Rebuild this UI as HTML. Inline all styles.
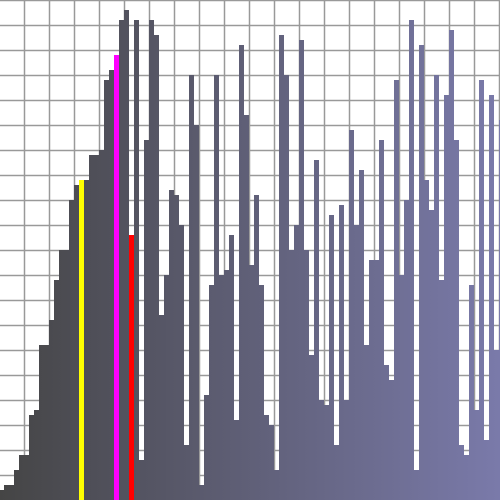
<!DOCTYPE html>
<html><head><meta charset="utf-8"><style>html,body{margin:0;padding:0;background:#fff}svg{display:block}</style></head>
<body>
<svg id="chart" width="500" height="500" viewBox="0 0 500 500" xmlns="http://www.w3.org/2000/svg">
<defs><linearGradient id="g" gradientUnits="userSpaceOnUse" x1="0" y1="0" x2="500" y2="0"><stop offset="0" stop-color="#454545"/><stop offset="1" stop-color="#7a7aaa"/></linearGradient></defs>
<g id="grid"></g>
<g id="bars"></g>
</svg>
<script>
const counts=[10,15,15,30,45,45,85,90,155,155,180,220,250,250,300,315,320,320,345,345,350,420,430,445,480,490,265,480,40,360,480,465,185,225,310,305,275,55,425,375,15,105,215,425,225,230,265,80,455,385,235,305,215,85,75,30,465,425,250,275,460,250,145,340,100,95,285,55,295,100,370,275,330,155,240,240,360,135,120,420,225,300,480,30,455,320,290,425,220,405,470,360,55,45,215,90,420,60,405,150,380];
const highlightIdx=[16,23,26];
const highlightColors=["#ffff00","#ff00ff","#ff0000"];
const NS="http://www.w3.org/2000/svg";
const barW=5, x0=-1, H=500;
function xs(i){return x0+i*barW;}
function ys(v){return H-v;}
const grid=document.getElementById('grid');
for(let k=0;k<=20;k++){
  const l=document.createElementNS(NS,'line');
  l.setAttribute('x1',0);l.setAttribute('x2',500);l.setAttribute('y1',k*25+0.5);l.setAttribute('y2',k*25+0.5);
  l.setAttribute('stroke','#999');l.setAttribute('stroke-width','1.5');
  
  
  grid.appendChild(l);
}
for(let k=0;k<20;k++){
  const l=document.createElementNS(NS,'line');
  const x=24.5+k*25;
  l.setAttribute('x1',x);l.setAttribute('x2',x);l.setAttribute('y1',0);l.setAttribute('y2',500);
  l.setAttribute('stroke','#999');l.setAttribute('stroke-width','1.5');
  
  
  grid.appendChild(l);
}
const bars=document.getElementById('bars');
counts.forEach((v,i)=>{
  const r=document.createElementNS(NS,'rect');
  r.setAttribute('x',xs(i));r.setAttribute('y',ys(v));r.setAttribute('width',barW);r.setAttribute('height',v);
  const h=highlightIdx.indexOf(i);
  r.setAttribute('fill',h>=0?highlightColors[h]:'url(#g)');
  
  
  bars.appendChild(r);
});
</script>
</body></html>
